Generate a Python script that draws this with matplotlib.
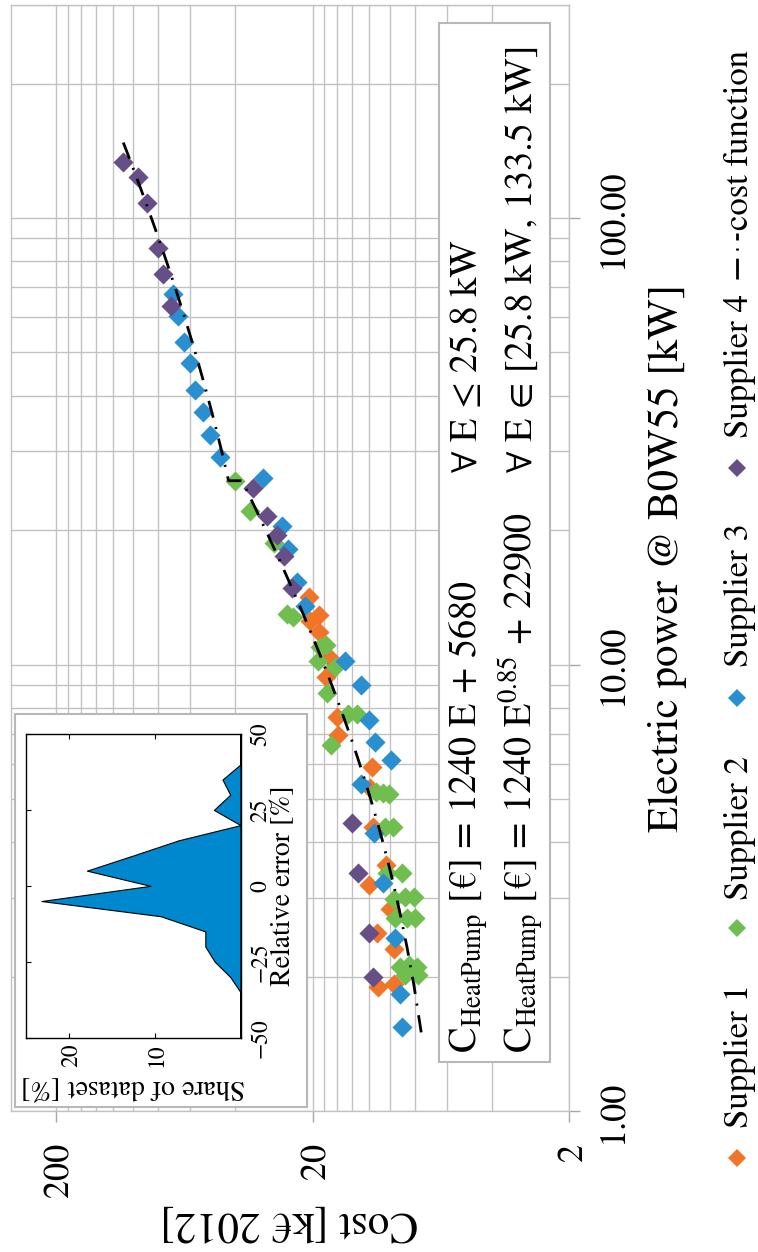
import numpy as np
import matplotlib
matplotlib.use("Agg")
import matplotlib.pyplot as plt
from matplotlib.ticker import FixedLocator, NullFormatter, LogLocator
from matplotlib.patches import Rectangle
from matplotlib.lines import Line2D

plt.rcParams['font.family'] = ['STIXGeneral', 'Liberation Serif', 'DejaVu Serif']
plt.rcParams['mathtext.fontset'] = 'stix'
plt.rcParams['lines.scale_dashes'] = False

# ---------------------------------------------------------------- data
# electric power [kW] and investment cost [k EUR 2012] per supplier
s1_power = [14.2, 12.9, 12.5, 11.8, 10.4, 9.39, 7.64, 6.95, 5.90, 5.28, 4.33,
            3.56, 3.21, 2.83, 2.50, 2.31, 1.90, 1.93]
s1_cost = [20.7, 18.9, 20.4, 18.8, 17.3, 17.7, 16.1, 15.9, 11.7, 11.9, 11.6,
           10.3, 12.0, 9.96, 11.2, 9.67, 11.1, 9.67]

s2_power = [25.8, 22.1, 18.7, 12.95, 12.8, 11.06, 10.96, 10.2, 9.89, 8.62,
            7.75, 7.75, 6.60, 5.18, 5.15, 5.13, 4.33, 4.33, 3.41, 3.42, 2.99,
            3.01, 3.01, 2.70, 2.70, 2.70, 2.10, 2.12, 2.10, 2.02, 2.02]
s2_cost = [40.3, 35.2, 28.2, 25.2, 23.8, 17.7, 18.7, 19.1, 16.3, 17.5, 14.5,
           13.4, 16.9, 11.3, 10.6, 10.05, 10.4, 9.72, 10.26, 8.97, 9.67, 8.70,
           8.08, 9.52, 8.57, 7.96, 9.10, 8.45, 7.84, 8.70, 7.73]

s3_power = [67.6, 60.3, 52.8, 47.3, 41.3, 36.8, 32.7, 29.1, 26.1, 20.4, 18.1,
            15.3, 13.5, 10.2, 9.0, 7.51, 6.72, 6.11, 5.39, 4.19, 3.24, 2.44,
            1.83, 1.54]
s3_cost = [70.0, 66.9, 63.6, 60.3, 57.3, 53.5, 50.1, 46.1, 31.2, 26.3, 25.0,
           22.9, 21.4, 15.0, 12.95, 12.0, 11.4, 9.90, 12.9, 11.5, 10.6, 9.52,
           9.16, 8.97]

s4_power = [133.5, 123.7, 108.2, 85.5, 74.8, 63.5, 24.9, 21.5, 19.5, 17.5,
            14.8, 4.41, 3.41, 2.51, 2.00]
s4_cost = [109.6, 95.8, 88.4, 80.4, 76.6, 71.1, 34.2, 30.0, 27.5, 25.9, 24.1,
           14.1, 13.3, 12.0, 11.6]

supplier_names = ['Supplier 1', 'Supplier 2', 'Supplier 3', 'Supplier 4']
supplier_colors = ['#F07528', '#6FBE4F', '#2A8FD1', '#664E86']

# fitted cost function C = a*E + b (E <= E_break), C = a*E^k + c (above)
fit_a = 1240.0
fit_b = 5680.0
fit_k = 0.85
fit_c = 22900.0
fit_break = 25.8
fit_range = (1.5, 153.0)

# relative error distribution of the fit
rel_error = [-50, -45, -40, -35, -30, -25, -20, -15, -10, -5, 0, 5, 10, 15,
             20, 25, 30, 35, 40, 45, 50]
share_of_dataset = [0, 0, 0, 0, 1.2, 3.0, 4.1, 4.1, 9.3, 23.2, 10.5, 17.9,
                    12.5, 7.2, 0, 3.1, 1.2, 2.1, 0, 0, 0]

cost_ticks = [200, 20, 2]
cost_ticklabels = ['200', '20', '2']
cost_minor = [4, 6, 8, 10, 12, 14, 16, 18, 40, 60, 80, 100, 120, 140, 160, 180]
power_ticks = [1, 10, 100]
power_ticklabels = ['1.00', '10.00', '100.00']
err_ticks = [-50, -25, 0, 25, 50]
err_ticklabels = ['\u221250', '\u221225', '0', '25', '50']
share_ticks = [20, 10]
share_ticklabels = ['20', '10']

# ---------------------------------------------------------------- layout
W, H = 758, 1252
fig = plt.figure(figsize=(W / 100, H / 100), dpi=100)


def fx(x):
    return x / W


def fy(y):
    return 1 - y / H


GRID = '#c2c2c2'

ax = fig.add_axes([fx(11), fy(1111), (569 - 11) / W, (1111 - 5) / H])
ax.set_xscale('log')
ax.set_yscale('log')
ax.set_xlim(300, 2)
ax.set_ylim(1, 300)

ax.set_xticks(cost_ticks)
ax.set_xticklabels(cost_ticklabels)
ax.xaxis.set_minor_locator(FixedLocator(cost_minor))
ax.xaxis.set_minor_formatter(NullFormatter())
ax.set_yticks(power_ticks)
ax.set_yticklabels(power_ticklabels)
ax.yaxis.set_minor_locator(LogLocator(base=10, subs=np.arange(2, 10)))
ax.yaxis.set_minor_formatter(NullFormatter())
ax.yaxis.tick_right()

ax.grid(which='both', color=GRID, lw=1.0)
ax.set_axisbelow(True)
for sp in ax.spines.values():
    sp.set_color(GRID)
    sp.set_linewidth(1.0)

ax.tick_params(which='major', direction='out', length=8, width=1,
               color='#a8a8a8', labelsize=26)
ax.tick_params(axis='x', which='major', pad=15)
ax.tick_params(axis='y', which='major', pad=12)
ax.tick_params(which='minor', length=0)
plt.setp(ax.get_xticklabels(), rotation=90, rotation_mode='anchor',
         ha='right', va='center_baseline')
plt.setp(ax.get_yticklabels(), rotation=90, rotation_mode='anchor',
         ha='center', va='top')

# scatter of the suppliers
for p, c, col in zip([s1_power, s2_power, s3_power, s4_power],
                     [s1_cost, s2_cost, s3_cost, s4_cost], supplier_colors):
    ax.scatter(c, p, marker='D', s=105, color=col, linewidths=0, zorder=3)

# piecewise cost function
E_low = np.linspace(fit_range[0], fit_break, 60)
E_high = np.geomspace(fit_break, fit_range[1], 60)
C_low = (fit_a * E_low + fit_b) / 1000
C_high = (fit_a * E_high ** fit_k + fit_c) / 1000
dashdot = (0, (12.5, 7, 1.5, 7))
ax.plot(np.r_[C_low, C_high], np.r_[E_low, E_high], color='black', lw=2.0,
        linestyle=dashdot, zorder=4)

# equation box
fig.add_artist(Rectangle((fx(439), fy(1062)), 111 / W, (1062 - 23) / H,
                         transform=fig.transFigure, facecolor='white',
                         edgecolor='#b8b8b8', lw=1.5, zorder=1))
eq_kw = dict(rotation=90, rotation_mode='anchor', ha='left', va='baseline',
             fontsize=27.5, zorder=5)
fig.text(fx(477), fy(1053), r'C$_{\rm HeatPump}$ [€] = 1240 E + 5680', **eq_kw)
fig.text(fx(477), fy(472), '\u2200 E \u2264 25.8 kW', **eq_kw)
fig.text(fx(532), fy(1053),
         r'C$_{\rm HeatPump}$ [€] = 1240 E$^{0.85}$ + 22900', **eq_kw)
fig.text(fx(532), fy(472), '\u2200 E \u2208 [25.8 kW, 133.5 kW]', **eq_kw)

# inset: distribution of the relative error
fig.add_artist(Rectangle((fx(15), fy(1107)), 292 / W, (1107 - 714) / H,
                         transform=fig.transFigure, facecolor='white',
                         edgecolor='#b8b8b8', lw=1.5, zorder=1))
axi = fig.add_axes([fx(26), fy(1037.7), (240.5 - 26) / W, (1037.7 - 734) / H],
                   zorder=3)
axi.fill_betweenx(rel_error, 0, share_of_dataset, facecolor='#0088CE',
                  edgecolor='black', lw=0.8)
axi.set_xlim(25, 0)
axi.set_ylim(-50, 50)
axi.set_xticks(share_ticks)
axi.set_xticklabels(share_ticklabels)
axi.set_yticks(err_ticks)
axi.set_yticklabels(err_ticklabels)
axi.yaxis.tick_right()
axi.tick_params(direction='in', length=3.5, width=0.8, labelsize=17,
                top=True, bottom=True, left=True, right=False,
                labelleft=False, labelright=True)
axi.tick_params(axis='x', pad=3.8)
axi.tick_params(axis='y', pad=7)
plt.setp(axi.get_xticklabels(), rotation=90, rotation_mode='anchor',
         ha='right', va='center_baseline')
plt.setp(axi.get_yticklabels(), rotation=90, rotation_mode='anchor',
         ha='center', va='top')
for sp in axi.spines.values():
    sp.set_linewidth(1.0)

fig.text(fx(290), fy(886), 'Relative error [%]', rotation=90,
         rotation_mode='anchor', ha='center', va='baseline', fontsize=20)
fig.text(fx(133), fy(1080), 'Share of dataset [%]', rotation=180,
         rotation_mode='anchor', ha='center', va='baseline', fontsize=20)

# axis titles
fig.text(fx(678), fy(558), 'Electric power @ B0W55 [kW]', rotation=90,
         rotation_mode='anchor', ha='center', va='baseline', fontsize=31)
fig.text(fx(289), fy(1212), 'Cost [k€ 2012]', rotation=180,
         rotation_mode='anchor', ha='center', va='baseline', fontsize=31)

# legend
leg_marker_y = [1158, 928, 698, 468]
leg_text_y = [1128, 900, 667, 438]
for name, col, my, ty in zip(supplier_names, supplier_colors, leg_marker_y,
                             leg_text_y):
    fig.add_artist(Line2D([fx(737)], [fy(my)], marker='D', markersize=9.5,
                          color=col, markeredgewidth=0,
                          transform=fig.transFigure))
    fig.text(fx(748), fy(ty), name, rotation=90, rotation_mode='anchor',
             ha='left', va='baseline', fontsize=25)
fig.add_artist(Line2D([fx(737), fx(737)], [fy(279), fy(232)], color='black',
                      lw=2.0, linestyle=(0, (15, 5.8, 1.5, 5.8, 5, 50)),
                      transform=fig.transFigure))
fig.text(fx(748), fy(230), 'cost function', rotation=90,
         rotation_mode='anchor', ha='left', va='baseline', fontsize=25)

fig.savefig('out.png', dpi=100)
